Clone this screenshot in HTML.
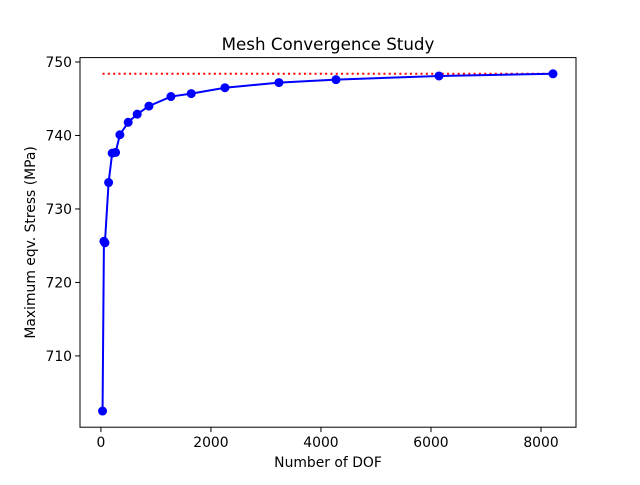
<!DOCTYPE html>
<html><head><meta charset="utf-8"><style>
body{margin:0;background:#fff;font-family:"Liberation Sans","DejaVu Sans",sans-serif}
svg text{font-family:"DejaVu Sans","Liberation Sans",sans-serif}
</style></head><body>
<svg id="chart" width="640" height="480" xmlns="http://www.w3.org/2000/svg"></svg>
<script>
const dof = [30, 55, 73, 140, 205, 267, 345, 496, 660, 873, 1273, 1642, 2255, 3236, 4273, 6145, 8218];
const stress = [702.5, 725.6, 725.4, 733.6, 737.6, 737.7, 740.1, 741.8, 742.9, 744.0, 745.3, 745.7, 746.5, 747.2, 747.6, 748.1, 748.4];
const refValue = 748.4;
const xTicks = [0, 2000, 4000, 6000, 8000];
const yTicks = [710, 720, 730, 740, 750];
const L=80,R=576,T=57.6,B=427.2;
const x0=-380,x1=8636,y0=700.3,y1=750.6;
const sx=v=>L+(v-x0)/(x1-x0)*(R-L);
const sy=v=>B-(v-y0)/(y1-y0)*(B-T);
const svg=document.getElementById('chart');
const NS='http://www.w3.org/2000/svg';
function mk(t,a,p){const e=document.createElementNS(NS,t);for(const k in a)e.setAttribute(k,a[k]);(p||svg).appendChild(e);return e;}
let rl=mk('line',{x1:sx(dof[0]),x2:sx(dof[dof.length-1]),y1:sy(refValue),y2:sy(refValue),stroke:'#ff0000','stroke-width':2,'stroke-dasharray':'2,3.3'});


let pl=mk('polyline',{points:dof.map((d,i)=>sx(d)+','+sy(stress[i])).join(' '),fill:'none',stroke:'blue','stroke-width':2});


dof.forEach((d,i)=>{const c=mk('circle',{cx:sx(d),cy:sy(stress[i]),r:4.5,fill:'blue'});

});
const fr=mk('rect',{x:L,y:T,width:R-L,height:B-T,fill:'none',stroke:'#000','stroke-width':1});


xTicks.forEach(t=>{mk('line',{x1:sx(t),x2:sx(t),y1:B,y2:B+4.9,stroke:'#000'});
const tx=mk('text',{x:sx(t),y:B+20,'font-size':13.9,'text-anchor':'middle'});tx.textContent=t;

});
yTicks.forEach(t=>{mk('line',{x1:L-4.9,x2:L,y1:sy(t),y2:sy(t),stroke:'#000'});
const tx=mk('text',{x:L-8,y:sy(t)+5,'font-size':13.9,'text-anchor':'end'});tx.textContent=t;

});
let t1=mk('text',{x:(L+R)/2,y:50,'font-size':16.7,'text-anchor':'middle'});t1.textContent='Mesh Convergence Study';


let t2=mk('text',{x:(L+R)/2,y:467,'font-size':13.9,'text-anchor':'middle'});t2.textContent='Number of DOF';


let t3=mk('text',{x:35,y:(T+B)/2,'font-size':13.9,'text-anchor':'middle',transform:'rotate(-90 35 '+(T+B)/2+')'});t3.textContent='Maximum eqv. Stress (MPa)';


</script>
</body></html>
